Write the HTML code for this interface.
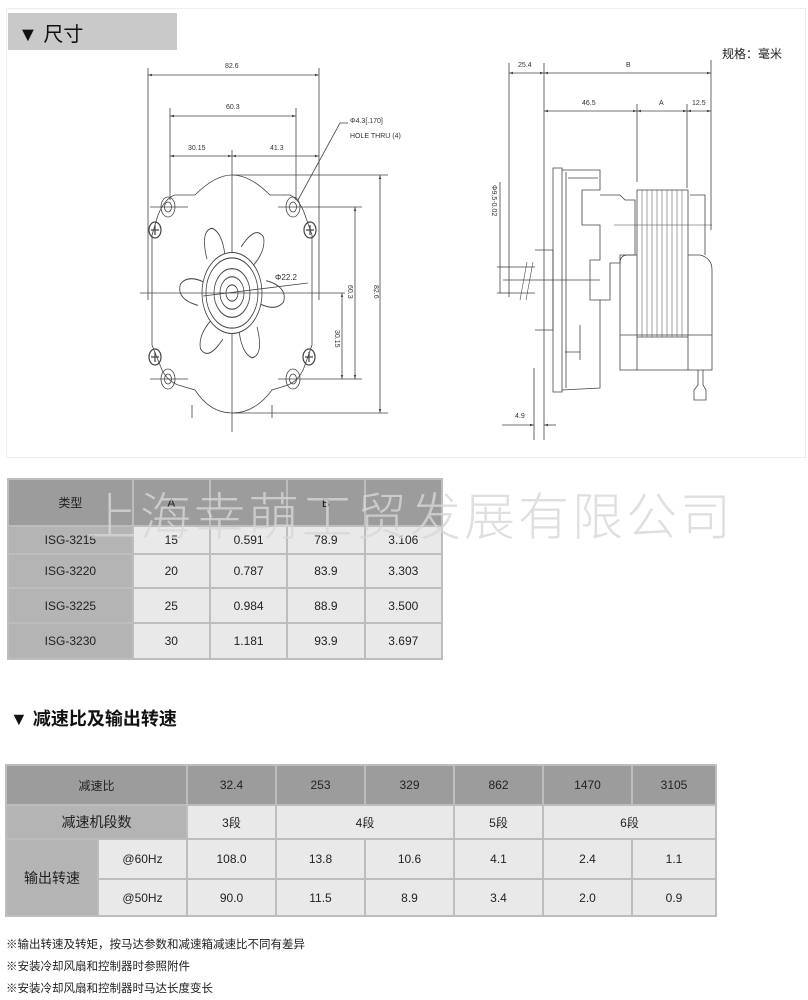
<!DOCTYPE html>
<html><head><meta charset="utf-8"><style>
body{margin:0;width:808px;height:1000px;background:#fff;position:relative;font-family:"Liberation Sans","Noto Sans CJK SC",sans-serif;overflow:hidden}
.abs{position:absolute}
table{border-collapse:collapse;position:absolute;font-family:"Liberation Sans","Noto Sans CJK SC",sans-serif;font-size:12px;color:#222}
td{text-align:center;border:2px solid #bdbdbd;padding:0}
.h{background:#9c9c9c}
.g{background:#b4b4b4}
.l{background:#e9e9e9}
.note{position:absolute;left:6px;font-size:11.5px;color:#222}
</style></head><body>
<div class="abs" style="left:6px;top:8px;width:798px;height:448px;border:1px solid #eee"></div>
<div class="abs" style="left:8px;top:13px;width:169px;height:37px;background:#c9c9c9"></div>
<div class="abs" style="left:18px;top:18px;font-size:20px;color:#111">▼ 尺寸</div>
<div class="abs" style="left:722px;top:45px;font-size:12px;color:#222">规格：毫米</div>
<svg class="abs" style="left:0;top:0" width="808" height="460" fill="none" stroke="#444" stroke-width="0.8" font-family="Liberation Sans" font-size="7">
<defs><marker id="a" viewBox="0 0 10 10" refX="10" refY="5" markerWidth="5" markerHeight="5" orient="auto-start-reverse"><path d="M0,2 L10,5 L0,8Z" fill="#444" stroke="none"/></marker></defs>
<!-- left view dims -->
<line x1="148" y1="75" x2="319" y2="75" marker-start="url(#a)" marker-end="url(#a)"/><line x1="148" y1="68" x2="148" y2="300"/><line x1="319" y1="68" x2="319" y2="300"/>
<text x="225" y="68" fill="#333" stroke="none">82.6</text>
<line x1="170" y1="116" x2="296" y2="116" marker-start="url(#a)" marker-end="url(#a)"/><line x1="170" y1="108" x2="170" y2="200"/><line x1="296" y1="108" x2="296" y2="200"/>
<text x="226" y="109" fill="#333" stroke="none">60.3</text>
<line x1="170" y1="156" x2="232" y2="156" marker-start="url(#a)" marker-end="url(#a)"/><line x1="232" y1="156" x2="319" y2="156" marker-start="url(#a)" marker-end="url(#a)"/><line x1="232" y1="150" x2="232" y2="432"/>
<text x="188" y="150" fill="#333" stroke="none">30.15</text><text x="270" y="150" fill="#333" stroke="none">41.3</text>
<text x="350" y="123" fill="#333" stroke="none">Φ4.3[.170]</text><text x="350" y="138" fill="#333" stroke="none">HOLE THRU (4)</text>
<polyline points="348,123 340,123 298,200"/>
<!-- body -->
<path d="M175,195 L195,195 Q215,175 232,175 Q250,175 270,195 L290,195 Q300,200 305,215 L312,235 L312,345 L305,365 Q300,380 288,385 L272,390 Q255,413 232,413 Q210,413 195,390 L178,385 Q165,380 160,365 L152,345 L152,235 L158,215 Q165,198 175,195 Z"/>
<ellipse cx="168" cy="207" rx="7" ry="10"/><ellipse cx="168" cy="207" rx="3.5" ry="5"/><ellipse cx="293" cy="207" rx="7" ry="10"/><ellipse cx="293" cy="207" rx="3.5" ry="5"/>
<ellipse cx="168" cy="379" rx="7" ry="10"/><ellipse cx="168" cy="379" rx="3.5" ry="5"/><ellipse cx="293" cy="379" rx="7" ry="10"/><ellipse cx="293" cy="379" rx="3.5" ry="5"/>
<g stroke-width="1.2"><ellipse cx="155" cy="230" rx="6" ry="8"/><ellipse cx="310" cy="230" rx="6" ry="8"/><ellipse cx="155" cy="357" rx="6" ry="8"/><ellipse cx="309" cy="357" rx="6" ry="8"/>
<path d="M151,230h8M155,225v10M306,230h8M310,225v10M151,357h8M155,352v10M305,357h8M309,352v10"/></g>
<line x1="150" y1="207" x2="188" y2="207"/><line x1="278" y1="207" x2="362" y2="207"/><line x1="150" y1="379" x2="188" y2="379"/><line x1="278" y1="379" x2="362" y2="379"/>
<!-- fan -->
<g transform="translate(232,293) scale(1,1.35)">
<g id="b"><path d="M-7,-28 Q-10,-45 -20,-48 Q-32,-46 -25,-25"/></g>
<use href="#b" transform="rotate(60)"/><use href="#b" transform="rotate(120)"/><use href="#b" transform="rotate(180)"/><use href="#b" transform="rotate(240)"/><use href="#b" transform="rotate(300)"/>
<circle r="30" fill="#fff"/><circle r="26"/><circle r="18"/><circle r="12"/><circle r="6"/>
</g>
<text x="275" y="280" fill="#333" stroke="none" font-size="8">Φ22.2</text>
<line x1="203" y1="296" x2="308" y2="283"/>
<line x1="140" y1="293" x2="345" y2="293"/>
<line x1="355" y1="207" x2="355" y2="379" marker-start="url(#a)" marker-end="url(#a)"/><line x1="342" y1="293" x2="342" y2="379" marker-start="url(#a)" marker-end="url(#a)"/>
<line x1="232" y1="175" x2="388" y2="175"/><line x1="232" y1="413" x2="388" y2="413"/><line x1="380" y1="175" x2="380" y2="413" marker-start="url(#a)" marker-end="url(#a)"/>
<text transform="translate(348,285) rotate(90)" fill="#333" stroke="none">60.3</text>
<text transform="translate(335,330) rotate(90)" fill="#333" stroke="none">30.15</text>
<text transform="translate(374,285) rotate(90)" fill="#333" stroke="none">82.6</text>
<line x1="192" y1="405" x2="192" y2="418"/><line x1="272" y1="405" x2="272" y2="418"/>
<!-- right view -->
<line x1="509" y1="63" x2="509" y2="297"/><line x1="544" y1="63" x2="544" y2="440"/><line x1="711" y1="60" x2="711" y2="230"/>
<line x1="509" y1="73" x2="544" y2="73" marker-start="url(#a)" marker-end="url(#a)"/><line x1="544" y1="73" x2="711" y2="73" marker-start="url(#a)" marker-end="url(#a)"/>
<text x="518" y="67" fill="#333" stroke="none">25.4</text><text x="626" y="67" fill="#333" stroke="none">B</text>
<line x1="544" y1="111" x2="637" y2="111" marker-start="url(#a)" marker-end="url(#a)"/><line x1="637" y1="111" x2="687" y2="111" marker-start="url(#a)" marker-end="url(#a)"/><line x1="687" y1="111" x2="711" y2="111" marker-start="url(#a)" marker-end="url(#a)"/>
<line x1="637" y1="104" x2="637" y2="182"/><line x1="687" y1="104" x2="687" y2="188"/>
<text x="582" y="105" fill="#333" stroke="none">46.5</text><text x="659" y="105" fill="#333" stroke="none">A</text><text x="692" y="105" fill="#333" stroke="none">12.5</text>
<path d="M553,168 L562,168 L562,392 L553,392 Z"/>
<path d="M562,170 L600,170 L600,190 L582,190 L582,225 L600,225 L600,260 L590,260 L590,300 L600,300 L600,388 L562,390"/>
<path d="M566,172 L566,388 M580,325 L580,360 M565,352 L580,352 M568,178 L598,178"/>
<path d="M600,195 L620,195 L625,200 L635,200 L635,255 L620,255 L620,263 L610,263 L610,300 L600,300"/>
<path d="M637,190 L688,190 L688,337 L637,337 Z"/>
<g stroke-width="0.5"><path d="M642,190v147M647,190v147M652,190v147M657,190v147M662,190v147M667,190v147M672,190v147M677,190v147M682,190v147"/></g>
<path d="M620,263 Q620,255 628,255 L637,255 M688,255 L700,255 Q712,258 712,270 L712,370 L620,370 L620,263"/>
<path d="M620,335 L712,335 M637,337 L637,370 M688,337 L688,370 M690,195 L705,195 L705,255"/>
<path d="M614,225 L712,225" stroke-width="0.5"/>
<path d="M698,370 L698,385 L694,390 L694,400 L706,400 L706,390 L703,385 L703,370"/>
<path d="M535,250 L553,250 L553,330 L535,330"/>
<path d="M509,267 L535,267 M509,293 L535,293"/>
<line x1="503" y1="280" x2="600" y2="280"/>
<path d="M520,300 L527,262 M526,300 L533,262" stroke-width="0.6"/>
<line x1="500" y1="182" x2="500" y2="293"/><line x1="497" y1="267" x2="510" y2="267"/><line x1="497" y1="293" x2="510" y2="293"/>
<text transform="translate(492,185) rotate(90)" fill="#333" stroke="none">Φ9.5-0.02</text>
<line x1="534" y1="368" x2="534" y2="440"/>
<line x1="502" y1="425" x2="534" y2="425" marker-end="url(#a)"/><line x1="556" y1="425" x2="544" y2="425" marker-end="url(#a)"/>
<text x="515" y="418" fill="#333" stroke="none">4.9</text>
</svg>
<table style="left:7px;top:478px;width:436px">
<tr style="height:47px"><td class="h" style="width:124px">类型</td><td class="h" style="width:76px">A</td><td class="h" style="width:76px"></td><td class="h" style="width:76px">B</td><td class="h" style="width:76px"></td></tr>
<tr style="height:28px"><td class="g">ISG-3215</td><td class="l">15</td><td class="l">0.591</td><td class="l">78.9</td><td class="l">3.106</td></tr>
<tr style="height:34px"><td class="g">ISG-3220</td><td class="l">20</td><td class="l">0.787</td><td class="l">83.9</td><td class="l">3.303</td></tr>
<tr style="height:35px"><td class="g">ISG-3225</td><td class="l">25</td><td class="l">0.984</td><td class="l">88.9</td><td class="l">3.500</td></tr>
<tr style="height:36px"><td class="g">ISG-3230</td><td class="l">30</td><td class="l">1.181</td><td class="l">93.9</td><td class="l">3.697</td></tr>
</table>
<div class="abs" style="left:86px;top:476px;font-size:51px;color:rgba(215,215,215,0.8);letter-spacing:3px;font-family:'Noto Sans CJK SC',sans-serif;font-weight:300;white-space:nowrap">上海幸萌工贸发展有限公司</div>
<div class="abs" style="left:10px;top:705px;font-size:18px;font-weight:bold;color:#111">▼ 减速比及输出转速</div>
<table style="left:5px;top:764px;width:712px">
<tr style="height:40px"><td class="h" colspan="2">减速比</td><td class="h">32.4</td><td class="h">253</td><td class="h">329</td><td class="h">862</td><td class="h">1470</td><td class="h">3105</td></tr>
<tr style="height:34px"><td class="g" colspan="2" style="font-size:14px">减速机段数</td><td class="l">3段</td><td class="l" colspan="2">4段</td><td class="l">5段</td><td class="l" colspan="2">6段</td></tr>
<tr style="height:40px"><td class="g" rowspan="2" style="width:90px;font-size:14px">输出转速</td><td class="l" style="width:87px">@60Hz</td><td class="l" style="width:87px">108.0</td><td class="l" style="width:87px">13.8</td><td class="l" style="width:87px">10.6</td><td class="l" style="width:87px">4.1</td><td class="l" style="width:87px">2.4</td><td class="l">1.1</td></tr>
<tr style="height:37px"><td class="l">@50Hz</td><td class="l">90.0</td><td class="l">11.5</td><td class="l">8.9</td><td class="l">3.4</td><td class="l">2.0</td><td class="l">0.9</td></tr>
</table>
<div class="note" style="top:936px">※输出转速及转矩，按马达参数和减速箱减速比不同有差异</div>
<div class="note" style="top:958px">※安装冷却风扇和控制器时参照附件</div>
<div class="note" style="top:980px">※安装冷却风扇和控制器时马达长度变长</div>
</body></html>
